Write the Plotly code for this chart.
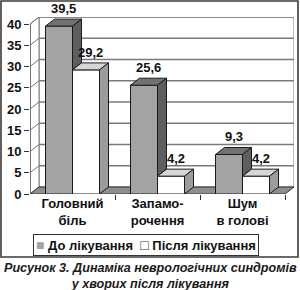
import plotly.graph_objects as go

# ---- data ----
categories = ["Головний<br>біль", "Запамо-<br>рочення", "Шум<br>в голові"]
series_names = ["До лікування", "Після лікування"]
before = [39.5, 25.6, 9.3]
after = [29.2, 4.2, 4.2]
y_ticks = [0, 5, 10, 15, 20, 25, 30, 35, 40]
caption = "Рисунок 3. Динаміка неврологічних синдромів<br>у хворих після лікування"

# ---- geometry / style ----
FW, FH = 300, 290
L, T, W, H = 30, 17, 264, 177
PXX = 85.0           # px per category unit
PXY = 4.25           # px per value unit
DX = 9 / PXX         # depth offset in x units
DY = 7 / PXY         # depth offset in y units
YMAX = 40
BW = 27 / PXX        # bar width
XR = 3 + DX
YR = YMAX + DY
R = FW - L - W
B = FH - T - H

FONT = "Liberation Sans, Arial, sans-serif"
EDGE = "#1a1a1a"
GRID = "#7a7a7a"
GRAY_FRONT, GRAY_TOP, GRAY_SIDE = "#a3a3a3", "#727272", "#5e5e5e"
WHITE_FRONT, WHITE_TOP, WHITE_SIDE = "#ffffff", "#d6d6d6", "#9c9c9c"
FLOOR = "#8e8e8e"


def px2x(px):
    return (px - L) / W


def py2y(py):
    return (T + H - py) / H


centers = [i + 0.5 for i in range(len(categories))]

fig = go.Figure()

# front faces
fig.add_trace(go.Bar(x=centers, y=before, width=BW, offset=-BW, name=series_names[0],
                     marker=dict(color=GRAY_FRONT, line=dict(color=EDGE, width=1)),
                     hoverinfo="skip", showlegend=False))
fig.add_trace(go.Bar(x=centers, y=after, width=BW, offset=0, name=series_names[1],
                     marker=dict(color=WHITE_FRONT, line=dict(color=EDGE, width=1)),
                     hoverinfo="skip", showlegend=False))


def top_face(x0, x1, v):
    return [x0, x1, x1 + DX, x0 + DX, x0, None], [v, v, v + DY, v + DY, v, None]


def side_face(x1, vlow, v):
    return [x1, x1 + DX, x1 + DX, x1, x1, None], [vlow, vlow + DY, v + DY, v, vlow, None]


def poly_trace(xs, ys, fill):
    return go.Scatter(x=xs, y=ys, mode="lines", fill="toself", fillcolor=fill,
                      line=dict(color=EDGE, width=1), hoverinfo="skip", showlegend=False)


gtx, gty, gsx, gsy, wtx, wty, wsx, wsy = [], [], [], [], [], [], [], []
for c, vb, va in zip(centers, before, after):
    a, b = top_face(c - BW, c, vb)
    gtx += a; gty += b
    if vb > va:
        a, b = side_face(c, va, vb)
        gsx += a; gsy += b
    a, b = top_face(c, c + BW, va)
    wtx += a; wty += b
    a, b = side_face(c + BW, 0, va)
    wsx += a; wsy += b

fig.add_trace(poly_trace(gtx, gty, GRAY_TOP))
if gsx:
    fig.add_trace(poly_trace(gsx, gsy, GRAY_SIDE))
fig.add_trace(poly_trace(wtx, wty, WHITE_TOP))
fig.add_trace(poly_trace(wsx, wsy, WHITE_SIDE))

# walls, floor, gridlines
shapes = []
shapes.append(dict(type="rect", xref="x", yref="y", x0=DX, x1=3 + DX, y0=DY, y1=YMAX + DY,
                   fillcolor="white", line=dict(color=GRID, width=1), layer="below"))
shapes.append(dict(type="path", xref="x", yref="y",
                   path=f"M0,0 L0,{YMAX} L{DX},{YMAX + DY} L{DX},{DY} Z",
                   fillcolor="white", line=dict(color=GRID, width=1), layer="below"))
for v in y_ticks[1:]:
    shapes.append(dict(type="line", xref="x", yref="y", x0=DX, x1=3 + DX, y0=v + DY, y1=v + DY,
                       line=dict(color=GRID, width=1.3), layer="below"))
    shapes.append(dict(type="line", xref="x", yref="y", x0=0, x1=DX, y0=v, y1=v + DY,
                       line=dict(color=GRID, width=1), layer="below"))
shapes.append(dict(type="path", xref="x", yref="y",
                   path=f"M0,0 L3,0 L{3 + DX},{DY} L{DX},{DY} Z",
                   fillcolor=FLOOR, line=dict(color="#333333", width=1), layer="below"))
shapes.append(dict(type="line", xref="x", yref="y", x0=0, x1=0, y0=0, y1=YMAX,
                   line=dict(color="#333333", width=1), layer="below"))
# outer frame
shapes.append(dict(type="rect", xref="paper", yref="paper",
                   x0=px2x(1), x1=px2x(298), y0=py2y(257), y1=py2y(1),
                   line=dict(color="#3a3a3a", width=1.6), fillcolor="rgba(0,0,0,0)", layer="above"))

# annotations: value labels
annotations = []
for c, vb, va in zip(centers, before, after):
    for xc, v in ((c - BW / 2 + DX / 2, vb), (c + BW / 2 + DX / 2, va)):
        annotations.append(dict(x=xc, y=v + DY, xref="x", yref="y", text=f"<b>{v:.1f}</b>".replace(".", ","),
                                showarrow=False, yanchor="bottom", yshift=1,
                                font=dict(family=FONT, size=13, color="#111111")))

# legend box
legend_text = (f"<b><span style='font-size:14px;color:{GRAY_FRONT}'>■</span> {series_names[0]}  "
               f"<span style='font-size:14px;color:#333333'>□</span> {series_names[1]}</b>")
annotations.append(dict(x=px2x(145.5), y=py2y(244.5), xref="paper", yref="paper", text=legend_text,
                        showarrow=False, xanchor="center", yanchor="middle",
                        bordercolor="#333333", borderwidth=1, borderpad=2, bgcolor="white",
                        font=dict(family=FONT, size=13, color="#111111")))
# caption
annotations.append(dict(x=px2x(150), y=py2y(276), xref="paper", yref="paper",
                        text=f"<b><i>{caption}</i></b>", showarrow=False,
                        xanchor="center", yanchor="middle",
                        font=dict(family=FONT, size=12.6, color="#1a1a1a")))

fig.update_layout(
    width=FW, height=FH, autosize=False,
    margin=dict(l=L, r=R, t=T, b=B, pad=0),
    paper_bgcolor="white", plot_bgcolor="white",
    barmode="overlay", showlegend=False,
    shapes=shapes, annotations=annotations,
    font=dict(family=FONT, color="#111111"),
    xaxis=dict(range=[0, XR], tickvals=centers, ticktext=categories, ticks="",
               showgrid=False, zeroline=False, showline=False, fixedrange=True,
               tickfont=dict(family=FONT, size=13, color="#111111", weight="bold"),
               minor=dict(tickmode="array", tickvals=[1, 2, 3], ticks="outside", ticklen=5,
                          tickcolor="#333333", tickwidth=1, showgrid=False)),
    yaxis=dict(range=[0, YR], tickvals=y_ticks, ticks="outside", ticklen=5, tickcolor="#333333",
               showgrid=False, zeroline=False, showline=False, fixedrange=True,
               tickfont=dict(family=FONT, size=13, color="#111111", weight="bold")),
)

fig.write_html("out.html", config={"displayModeBar": False})
